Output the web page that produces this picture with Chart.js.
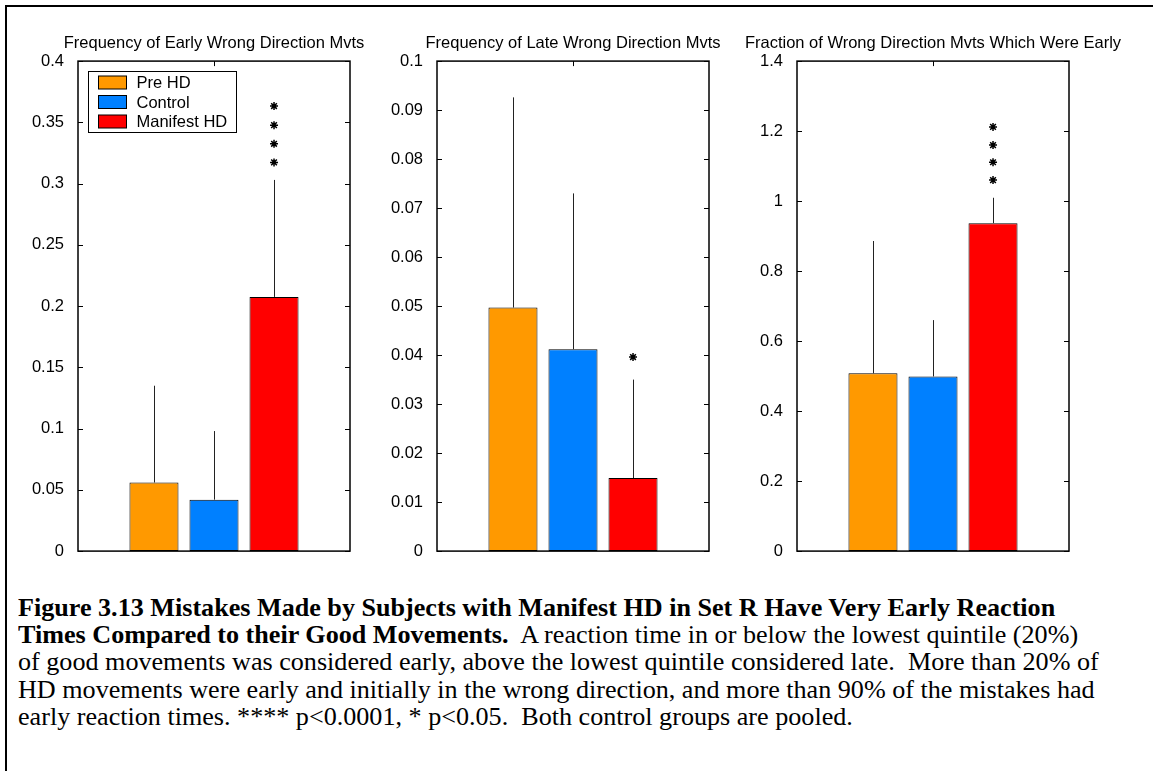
<!DOCTYPE html>
<html><head><meta charset="utf-8">
<script src="https://cdn.jsdelivr.net/npm/chart.js@4.4.1/dist/chart.umd.min.js"></script>
<style>
html,body{margin:0;padding:0;background:#fff;}
body{width:1153px;height:771px;position:relative;overflow:hidden;}
.frame{position:absolute;left:5px;top:5px;width:1148px;height:766px;border-left:2px solid #000;border-top:2px solid #000;box-sizing:border-box;}
.pane{position:absolute;top:0;width:412px;height:571px;}
#caption{position:absolute;left:18px;top:594px;font-family:"Liberation Serif","Times New Roman",serif;font-size:25px;line-height:27.2px;white-space:pre;color:#000;transform:scaleX(1.045);transform-origin:0 0;}
</style></head><body>
<div class="frame"></div>
<div class="pane" id="p1" style="left:8px"><canvas id="c1" width="412" height="571"></canvas></div>
<div class="pane" id="p2" style="left:367px"><canvas id="c2" width="412" height="571"></canvas></div>
<div class="pane" id="p3" style="left:727px"><canvas id="c3" width="412" height="571"></canvas></div>
<div id="caption"><b>Figure 3.13 Mistakes Made by Subjects with Manifest HD in Set R Have Very Early Reaction</b>
<b>Times Compared to their Good Movements.</b>  A reaction time in or below the lowest quintile (20%)
of good movements was considered early, above the lowest quintile considered late.  More than 20% of
HD movements were early and initially in the wrong direction, and more than 90% of the mistakes had
early reaction times. **** p&lt;0.0001, * p&lt;0.05.  Both control groups are pooled.</div>
<script>
// ---- data ----
const groups = ['Pre HD', 'Control', 'Manifest HD'];
const groupColors = ['#FF9900', '#0080FF', '#FF0000'];

const earlyTitle = 'Frequency of Early Wrong Direction Mvts';
const earlyMeans = [0.056, 0.042, 0.2075];
const earlySD = [0.079, 0.056, 0.0955];
const earlyStars = [0.3633, 0.3477, 0.3325, 0.3173];
const earlyTicks = ['0', '0.05', '0.1', '0.15', '0.2', '0.25', '0.3', '0.35', '0.4'];

const lateTitle = 'Frequency of Late Wrong Direction Mvts';
const lateMeans = [0.0497, 0.0412, 0.0149];
const lateSD = [0.0429, 0.0318, 0.0201];
const lateStars = [0.0396];
const lateTicks = ['0', '0.01', '0.02', '0.03', '0.04', '0.05', '0.06', '0.07', '0.08', '0.09', '0.1'];

const fracTitle = 'Fraction of Wrong Direction Mvts Which Were Early';
const fracMeans = [0.508, 0.499, 0.937];
const fracSD = [0.378, 0.161, 0.0725];
const fracStars = [1.212, 1.160, 1.111, 1.060];
const fracTicks = ['0', '0.2', '0.4', '0.6', '0.8', '1', '1.2', '1.4'];

const FONT = '"Liberation Sans", Arial, Helvetica, sans-serif';

function star(ctx, x, y, r) {
  ctx.beginPath();
  for (let k = 0; k < 4; k++) {
    const a = k * Math.PI / 4;
    ctx.moveTo(x - r * Math.cos(a), y - r * Math.sin(a));
    ctx.lineTo(x + r * Math.cos(a), y + r * Math.sin(a));
  }
  ctx.stroke();
}

const matlabPlugin = {
  id: 'matlab',
  afterDatasetsDraw(chart, args, opts) {
    const ctx = chart.ctx, ca = chart.chartArea, ys = chart.scales.y, xs = chart.scales.x;
    ctx.save();
    // error bars (upper only)
    ctx.strokeStyle = '#222'; ctx.lineWidth = 1;
    chart.data.datasets.forEach((ds, i) => {
      const bar = chart.getDatasetMeta(i).data[0];
      const x = Math.round(bar.x) + 0.5;
      ctx.beginPath();
      ctx.moveTo(x, ys.getPixelForValue(ds.data[0]));
      ctx.lineTo(x, ys.getPixelForValue(ds.data[0] + opts.sd[i]));
      ctx.stroke();
    });
    // significance stars
    const sb = chart.getDatasetMeta(opts.starIndex).data[0];
    ctx.strokeStyle = '#000'; ctx.lineWidth = 1.5;
    opts.stars.forEach(v => star(ctx, sb.x, ys.getPixelForValue(v), 4));
    // axes box
    ctx.strokeStyle = '#000'; ctx.lineWidth = 1.5;
    ctx.strokeRect(ca.left, ca.top, ca.right - ca.left, ca.bottom - ca.top);
    // inner tick marks
    ctx.lineWidth = 1;
    ys.ticks.forEach((t, i) => {
      const py = Math.round(ys.getPixelForTick(i)) + 0.5;
      ctx.beginPath();
      ctx.moveTo(ca.left, py); ctx.lineTo(ca.left + 5, py);
      ctx.moveTo(ca.right, py); ctx.lineTo(ca.right - 5, py);
      ctx.stroke();
    });
    const cx = Math.round(xs.getPixelForValue(0)) + 0.5;
    ctx.beginPath();
    ctx.moveTo(cx, ca.top); ctx.lineTo(cx, ca.top + 5);
    ctx.stroke();
    // legend
    if (opts.legend) {
      const bx = Math.round(ca.left) + 10.5, by = Math.round(ca.top) + 10.5;
      ctx.fillStyle = '#fff';
      ctx.fillRect(bx, by, 148, 61);
      ctx.strokeStyle = '#000'; ctx.lineWidth = 1;
      ctx.strokeRect(bx, by, 148, 61);
      ctx.font = '16.5px ' + FONT;
      ctx.textBaseline = 'middle'; ctx.textAlign = 'left';
      chart.data.datasets.forEach((ds, i) => {
        const cy = by + 11 + i * 19.5;
        ctx.fillStyle = ds.backgroundColor;
        ctx.fillRect(bx + 10, cy - 6.5, 28, 13);
        ctx.strokeRect(bx + 10, cy - 6.5, 28, 13);
        ctx.fillStyle = '#000';
        ctx.fillText(ds.label, bx + 48, cy + 1);
      });
    }
    ctx.restore();
  }
};

function makePanel(id, title, means, sd, stars, tickLabels, max, step, legend) {
  return new Chart(document.getElementById(id), {
    type: 'bar',
    data: {
      labels: [''],
      datasets: groups.map((g, i) => ({
        label: g,
        data: [means[i]],
        backgroundColor: groupColors[i],
        borderColor: '#000',
        borderWidth: 1,
        borderSkipped: false,
        categoryPercentage: 0.662,
        barPercentage: 0.817
      }))
    },
    options: {
      responsive: false,
      animation: false,
      devicePixelRatio: 1,
      layout: { padding: { top: 33.2, right: 0, bottom: 13, left: 0 } },
      scales: {
        x: { display: false, offset: true },
        y: {
          min: 0, max: max,
          border: { display: false },
          grid: { display: false },
          afterFit: s => { s.width = 70; },
          ticks: {
            stepSize: step,
            padding: 6,
            color: '#000',
            font: { family: FONT, size: 16.5 },
            callback: v => tickLabels[Math.round(v / step)]
          }
        },
        yRight: {
          position: 'right',
          min: 0, max: max,
          border: { display: false },
          grid: { display: false },
          ticks: { display: false },
          afterFit: s => { s.width = 70; }
        }
      },
      plugins: {
        legend: { display: false },
        tooltip: { enabled: false },
        title: {
          display: true, text: title, color: '#000',
          font: { family: FONT, size: 16.5, weight: 'normal' },
          padding: { top: 0, bottom: 8 }
        },
        matlab: { sd: sd, stars: stars, starIndex: 2, legend: legend }
      }
    },
    plugins: [matlabPlugin]
  });
}

// place each panel so its plot box sits at the reference position
function place(chart, paneId, plotLeft, plotTop, plotHeight) {
  let ca = chart.chartArea;
  const diff = (ca.bottom - ca.top) - plotHeight;
  if (Math.abs(diff) > 0.1) {
    chart.options.layout.padding = { top: 33.2 + diff, right: 0, bottom: 13, left: 0 };
    chart.update();
    ca = chart.chartArea;
  }
  const pane = document.getElementById(paneId);
  pane.style.top = (plotTop - ca.top) + 'px';
  pane.style.left = (plotLeft - ca.left) + 'px';
}

const ch1 = makePanel('c1', earlyTitle, earlyMeans, earlySD, earlyStars, earlyTicks, 0.4, 0.05, true);
const ch2 = makePanel('c2', lateTitle, lateMeans, lateSD, lateStars, lateTicks, 0.1, 0.01, false);
const ch3 = makePanel('c3', fracTitle, fracMeans, fracSD, fracStars, fracTicks, 1.4, 0.2, false);
place(ch1, 'p1', 78, 61, 490);
place(ch2, 'p2', 437, 61, 490);
place(ch3, 'p3', 797, 61, 490);
</script>
</body></html>
